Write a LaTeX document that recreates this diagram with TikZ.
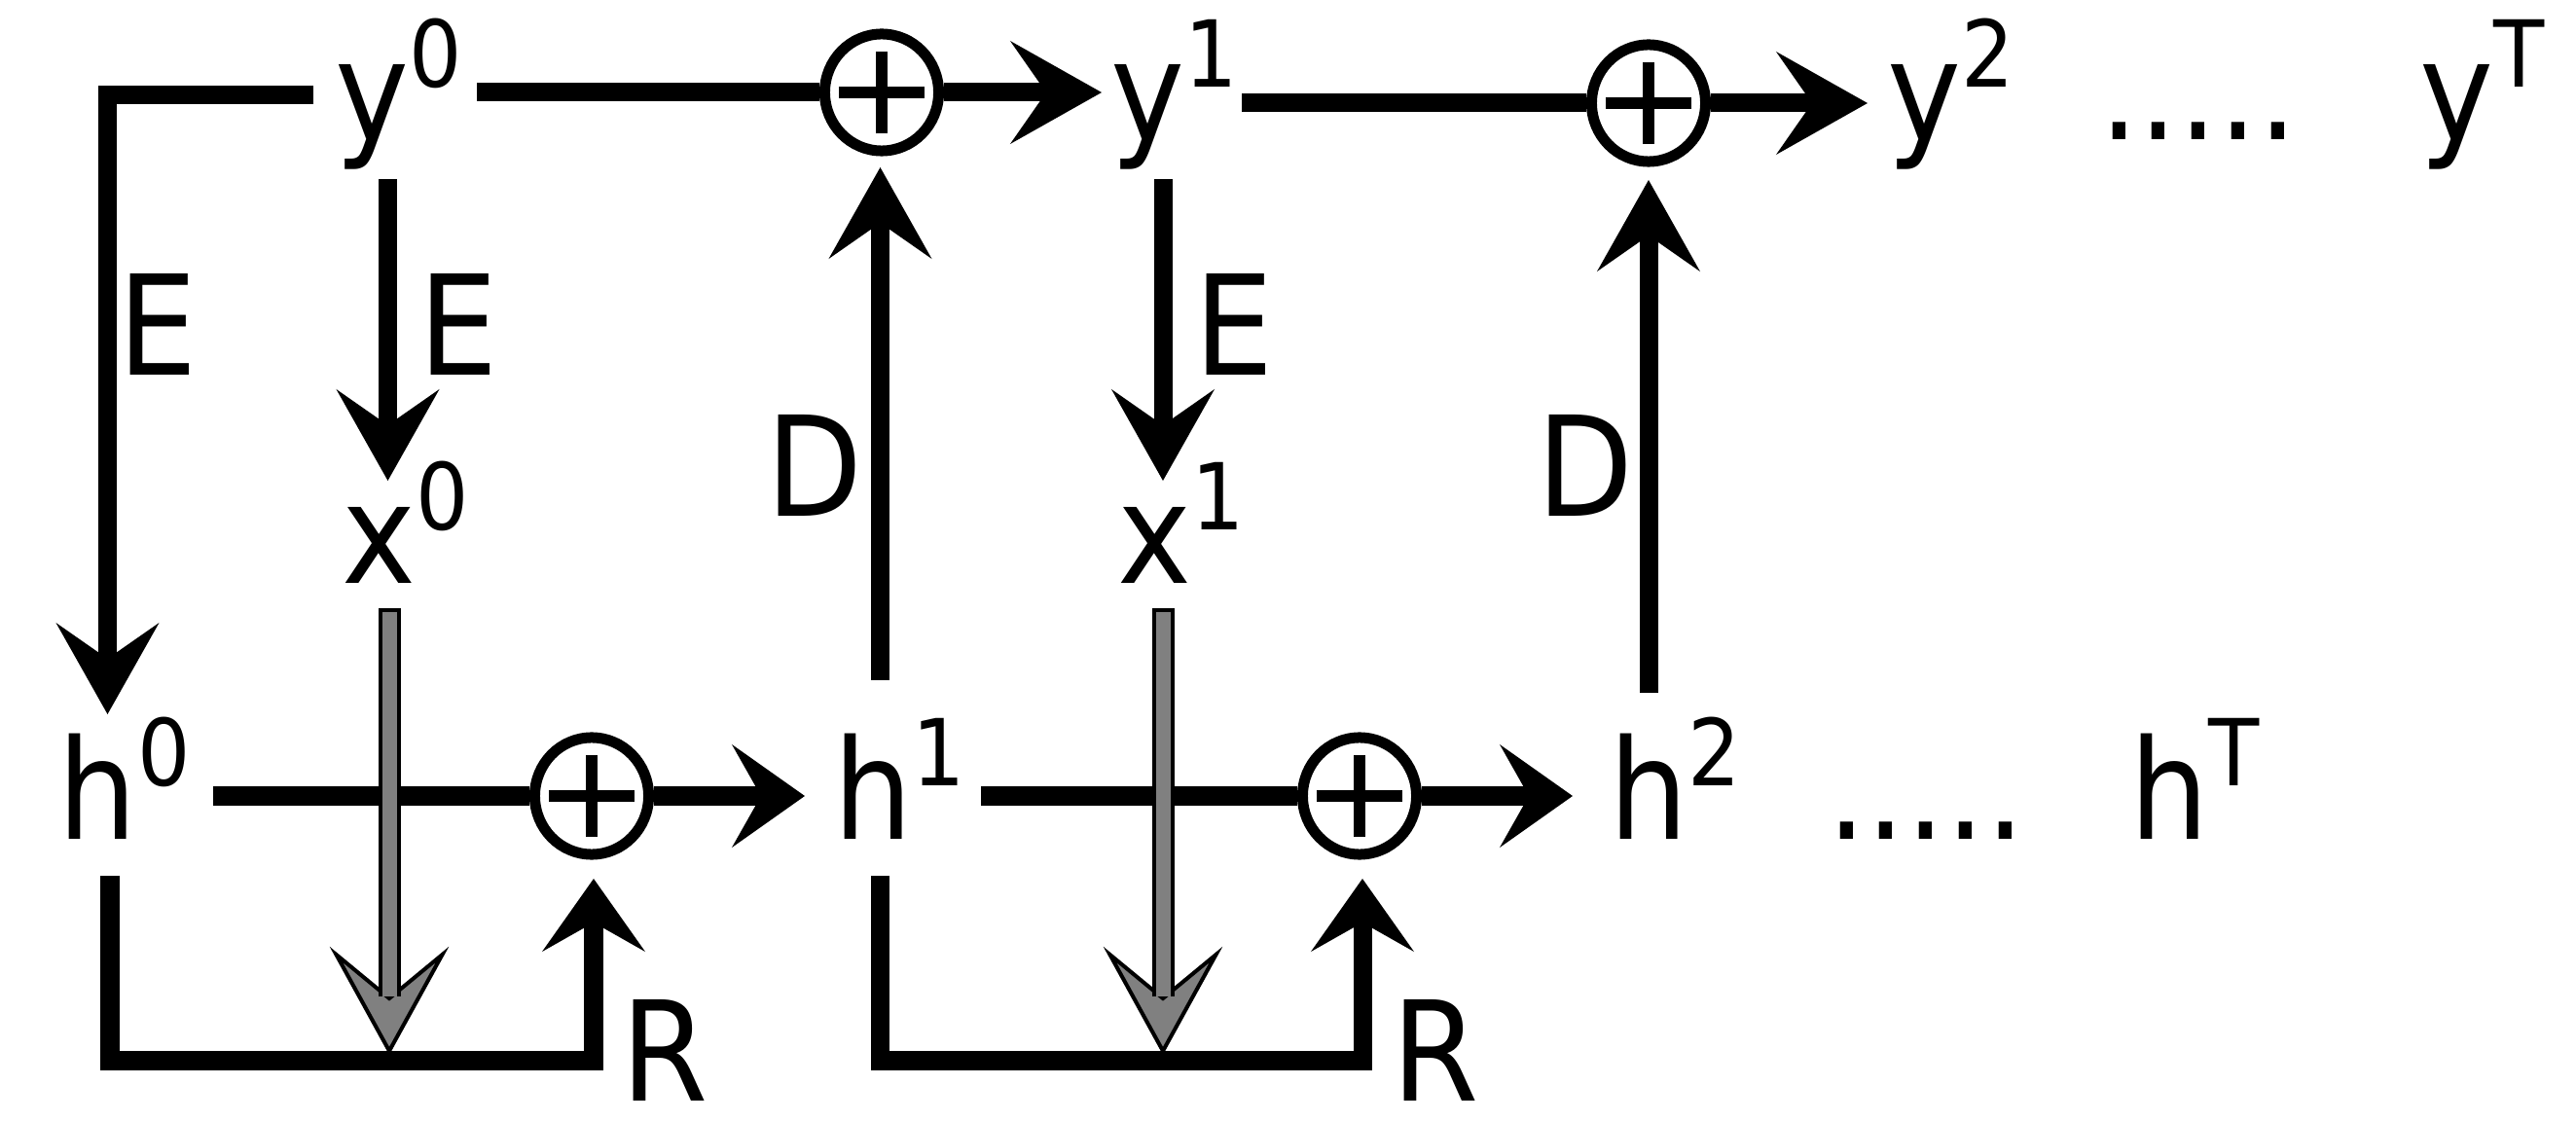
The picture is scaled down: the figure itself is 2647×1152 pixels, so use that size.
\documentclass[tikz,border=0pt]{standalone}
\usepackage{fontspec}
\setmainfont{DejaVu Sans}[FakeStretch=0.9]
\usetikzlibrary{arrows.meta,shapes.geometric}
\newcommand\supx[1]{\raisebox{0.39em}{\fontsize{27}{30}\selectfont #1}}
\begin{document}
\begin{tikzpicture}[x=0.01cm,y=-0.01cm,
  every node/.style={inner sep=0pt, outer sep=0pt, anchor=base west, font=\fontsize{40.6}{48}\selectfont},
  wline/.style={line width=0.19cm},
  bigtip/.style={-{Stealth[length=0.94cm,width=1.06cm,inset=0.37cm,line width=0pt]}},
  smalltip/.style={-{Stealth[length=0.75cm,width=1.06cm,inset=0.30cm,line width=0pt]}},
  opl/.style={ellipse, draw, line width=0.11cm, minimum width=1.17cm, minimum height=1.20cm, inner sep=0pt, outer sep=0.055cm, anchor=center},
  plusbar/.style={line width=0.125cm},
  greyshape/.style={fill=gray, draw=black, line width=0.04cm}
]
\useasboundingbox (0,0) rectangle (2647,1152);
\fill[white] (0,0) rectangle (2647,1152);

% text nodes
\node (y0) at (344,145) {y\supx{0}};
\node (y1) at (1141,145) {y\supx{1}};
\node (y2) at (1939,145) {y\supx{2}};
\node (ydots) at (2157,144) {.....};
\node (yT) at (2486,145) {y\supx{T}};
\node (x0) at (351,600) {x\supx{0}};
\node (x1) at (1148,600) {x\supx{1}};
\node (h0) at (60,863) {h\supx{0}};
\node (h1) at (856,863) {h\supx{1}};
\node (h2) at (1653,863) {h\supx{2}};
\node (hdots) at (1877,863) {.....};
\node (hT) at (2188,863) {h\supx{T}};
\node (E0) at (121,386) {E};
\node (E1) at (430,386) {E};
\node (E2) at (1227,386) {E};
\node (D1) at (787,531) {D};
\node (D2) at (1579,531) {D};
\node (R1) at (638,1131) {R};
\node (R2) at (1430,1131) {R};

% sum nodes
\node[opl] (p1) at (906,95) {};
\node[opl] (p2) at (1694,106) {};
\node[opl] (pb1) at (608,818) {};
\node[opl] (pb2) at (1397,818) {};
\foreach \n in {p1,p2,pb1,pb2}{
  \draw[plusbar] ([xshift=-0.44cm]\n.center) -- ([xshift=0.44cm]\n.center);
  \draw[plusbar] ([yshift=-0.42cm]\n.center) -- ([yshift=0.42cm]\n.center);
}

% coordinates
\coordinate (a0) at (322,98);
\coordinate (a0c) at (110.5,98);
\coordinate (a0t) at (110.5,734);
\coordinate (y0r) at (490,95);
\coordinate (y1l) at (1132,95);
\coordinate (y1r) at (1276,106);
\coordinate (y2l) at (1919,106);
\coordinate (e0s) at (398.5,184);
\coordinate (e0t) at (398.5,494);
\coordinate (e1s) at (1195,184);
\coordinate (e1t) at (1195,494);
\coordinate (d0s) at (904.5,699);
\coordinate (d0t) at (904.5,172);
\coordinate (d1s) at (1694,712);
\coordinate (d1t) at (1694,185);
\coordinate (h0r) at (219,818);
\coordinate (h1l) at (827,818);
\coordinate (h1r) at (1008,818);
\coordinate (h2l) at (1616,818);
\coordinate (b0s) at (113,900);
\coordinate (b0a) at (113,1090);
\coordinate (b0b) at (610,1090);
\coordinate (b0t) at (610,903);
\coordinate (b1s) at (904,900);
\coordinate (b1a) at (904,1090);
\coordinate (b1b) at (1400,1090);
\coordinate (b1t) at (1400,903);
\coordinate (g0s) at (400,627);
\coordinate (g0t) at (400,1080);
\coordinate (g1s) at (1195,627);
\coordinate (g1t) at (1195,1080);

% top row
\draw[wline,bigtip] (a0) -- (a0c) -- (a0t);
\draw[wline] (y0r) -- (p1.west);
\draw[wline,bigtip] (p1.east) -- (y1l);
\draw[wline] (y1r) -- (p2.west);
\draw[wline,bigtip] (p2.east) -- (y2l);

% E and D arrows
\draw[wline,bigtip] (e0s) -- (e0t);
\draw[wline,bigtip] (e1s) -- (e1t);
\draw[wline,bigtip] (d0s) -- (d0t);
\draw[wline,bigtip] (d1s) -- (d1t);

% bottom row
\draw[wline] (h0r) -- (pb1.west);
\draw[wline,smalltip] (pb1.east) -- (h1l);
\draw[wline] (h1r) -- (pb2.west);
\draw[wline,smalltip] (pb2.east) -- (h2l);

% brackets
\draw[wline,smalltip] (b0s) -- (b0a) -- (b0b) -- (b0t);
\draw[wline,smalltip] (b1s) -- (b1a) -- (b1b) -- (b1t);

% grey arrows
\foreach \s/\t in {g0s/g0t,g1s/g1t}{
  \filldraw[greyshape] (\t) -- ++(-54.5,-99) -- ++(54.5,45) -- ++(54.5,-45) -- cycle;
  \filldraw[greyshape] ([shift={(-9.5,-56)}]\t) -- ([shift={(-9.5,0)}]\s) -- ([shift={(9.5,0)}]\s) -- ([shift={(9.5,-56)}]\t);
}
\end{tikzpicture}
\end{document}
